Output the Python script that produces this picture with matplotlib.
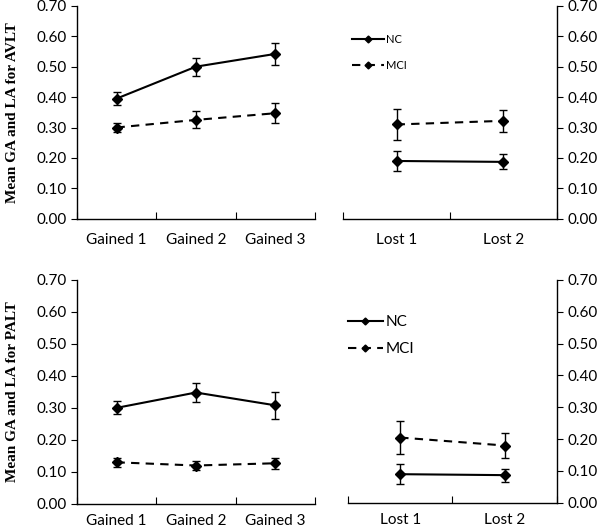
import numpy as np
import matplotlib
matplotlib.use('Agg')
import matplotlib.pyplot as plt
from matplotlib.lines import Line2D

gained = ['Gained 1', 'Gained 2', 'Gained 3']
lost = ['Lost 1', 'Lost 2']
yticks = [0.0, 0.1, 0.2, 0.3, 0.4, 0.5, 0.6, 0.7]

# AVLT
avlt_nc_gain = [0.395, 0.500, 0.542]
avlt_nc_gain_err = [0.022, 0.030, 0.035]
avlt_mci_gain = [0.300, 0.325, 0.347]
avlt_mci_gain_err = [0.015, 0.028, 0.032]
avlt_nc_lost = [0.190, 0.187]
avlt_nc_lost_err = [0.033, 0.025]
avlt_mci_lost = [0.310, 0.322]
avlt_mci_lost_err = [0.050, 0.037]

# PALT
palt_nc_gain = [0.300, 0.348, 0.308]
palt_nc_gain_err = [0.020, 0.030, 0.042]
palt_mci_gain = [0.130, 0.120, 0.127]
palt_mci_gain_err = [0.015, 0.015, 0.018]
palt_nc_lost = [0.090, 0.087]
palt_nc_lost_err = [0.032, 0.020]
palt_mci_lost = [0.205, 0.180]
palt_mci_lost_err = [0.052, 0.040]

tick_font = 'Lato'
DASH = (4, 3)

fig = plt.figure(figsize=(6, 5.31), dpi=100)


def series(ax, x, y, err, ls):
    kw = dict(dashes=DASH) if ls == '--' else {}
    ax.errorbar(x, y, yerr=err, color='black', ls=ls, lw=1.5, marker='D', ms=5,
                capsize=3, elinewidth=1, capthick=1, **kw)


def style(ax, cats, side, pad):
    n = len(cats)
    ax.set_xlim(0, n)
    ax.set_ylim(0, 0.7)
    ax.set_yticks(yticks)
    ax.set_yticklabels(['%.2f' % v for v in yticks], fontfamily=tick_font, fontsize=11)
    ax.set_xticks(np.arange(n + 1))
    ax.set_xticklabels([''] * (n + 1))
    ax.set_xticks(np.arange(n) + 0.5, minor=True)
    ax.set_xticklabels(cats, minor=True, fontfamily=tick_font, fontsize=11)
    ax.tick_params(axis='x', which='major', direction='in', length=5)
    ax.tick_params(axis='x', which='minor', length=0, pad=pad)
    ax.tick_params(axis='y', length=4)
    ax.spines['top'].set_visible(False)
    if side == 'left':
        ax.spines['right'].set_visible(False)
    else:
        ax.spines['left'].set_visible(False)
        ax.yaxis.tick_right()
    for s in ax.spines.values():
        s.set_linewidth(1)


def panel(rect_l, rect_r, ncg, ncge, mcg, mcge, ncl, ncle, mcl, mcle, ylabel,
          leg_fs, leg_xy, leg_space, leg_hl, pad):
    axl = fig.add_axes(rect_l)
    xg = np.arange(3) + 0.5
    series(axl, xg, ncg, ncge, '-')
    series(axl, xg, mcg, mcge, '--')
    style(axl, gained, 'left', pad)
    axl.set_ylabel(ylabel, fontfamily='Liberation Serif', fontweight='bold', fontsize=11, labelpad=12)

    axr = fig.add_axes(rect_r)
    xl = np.arange(2) + 0.5
    series(axr, xl, ncl, ncle, '-')
    series(axr, xl, mcl, mcle, '--')
    style(axr, lost, 'right', pad)
    handles = [Line2D([], [], color='black', lw=1.5, marker='D', ms=3.5),
               Line2D([], [], color='black', lw=1.5, ls='--', dashes=DASH, marker='D', ms=3.5)]
    axr.legend(handles, ['NC', 'MCI'], loc='upper left', bbox_to_anchor=leg_xy, frameon=False,
               prop={'family': tick_font, 'size': leg_fs}, handlelength=leg_hl,
               handletextpad=0.2, labelspacing=leg_space, borderaxespad=0)


panel([0.128, 0.588, 0.397, 0.401], [0.572, 0.588, 0.356, 0.401],
      avlt_nc_gain, avlt_nc_gain_err, avlt_mci_gain, avlt_mci_gain_err,
      avlt_nc_lost, avlt_nc_lost_err, avlt_mci_lost, avlt_mci_lost_err,
      'Mean GA and LA for AVLT', 8, (0.02, 0.89), 1.4, 2.9, 10)

panel([0.128, 0.051, 0.397, 0.422], [0.580, 0.053, 0.348, 0.420],
      palt_nc_gain, palt_nc_gain_err, palt_mci_gain, palt_mci_gain_err,
      palt_nc_lost, palt_nc_lost_err, palt_mci_lost, palt_mci_lost_err,
      'Mean GA and LA for PALT', 11, (-0.03, 0.87), 0.85, 2.3, 7)

plt.savefig('out.png', dpi=100)
